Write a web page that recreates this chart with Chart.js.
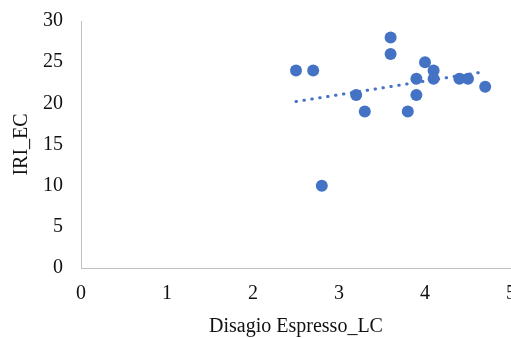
<!DOCTYPE html>
<html>
<head>
<meta charset="utf-8">
<script src="https://cdn.jsdelivr.net/npm/chart.js@4.4.0/dist/chart.umd.min.js"></script>
<style>
  html, body { margin: 0; padding: 0; background: #fff; overflow: hidden; }
  #wrap { width: 530px; height: 338px; position: relative; }
</style>
</head>
<body>
<div id="wrap"><canvas id="chart"></canvas></div>
<script>
// Disagio Espresso_LC (x) vs IRI_EC (y)
const disagioLC = [2.5, 2.7, 3.6, 3.6, 4.0, 4.1, 3.9, 4.1, 4.4, 4.5, 4.7, 3.2, 3.9, 3.3, 3.8, 2.8];
const iriEC     = [24,  24,  28,  26,  25,  24,  23,  23,  23,  23,  22,  21,  21,  19,  19,  10];
const xTicks = [0, 1, 2, 3, 4, 5];
const yTicks = [0, 5, 10, 15, 20, 25, 30];

const BLUE = '#4472C4';
const TEXT = '#111111';
const FONT = { family: "'Liberation Serif', 'Times New Roman', serif", size: 20 };

// least-squares linear trendline over the x range of the data
function linearTrend(xs, ys) {
    const n = xs.length;
    const mx = xs.reduce((a, b) => a + b, 0) / n;
    const my = ys.reduce((a, b) => a + b, 0) / n;
    let sxy = 0, sxx = 0;
    for (let i = 0; i < n; i++) {
        sxy += (xs[i] - mx) * (ys[i] - my);
        sxx += (xs[i] - mx) * (xs[i] - mx);
    }
    const m = sxy / sxx, b = my - m * mx;
    const x0 = Math.min(...xs), x1 = Math.max(...xs);
    return [{ x: x0, y: m * x0 + b }, { x: x1, y: m * x1 + b }];
}

const points = disagioLC.map((x, i) => ({ x, y: iriEC[i] }));

new Chart(document.getElementById('chart'), {
    type: 'scatter',
    data: {
        datasets: [
            {
                label: 'IRI_EC',
                data: points,
                backgroundColor: BLUE,
                borderWidth: 0,
                pointRadius: 6,
                order: 1
            },
            {
                type: 'line',
                label: 'Lineare',
                data: linearTrend(disagioLC, iriEC),
                borderColor: BLUE,
                borderWidth: 3,
                borderDash: [0.5, 7.5],
                borderCapStyle: 'round',
                pointRadius: 0,
                fill: false,
                order: 0
            }
        ]
    },
    options: {
        responsive: true,
        maintainAspectRatio: false,
        animation: false,
        layout: { padding: { top: 21, right: 17, bottom: 0, left: 0 } },
        plugins: { legend: { display: false }, tooltip: { enabled: false } },
        scales: {
            x: {
                type: 'linear', min: 0, max: 5,
                afterBuildTicks: s => { s.ticks = xTicks.map(v => ({ value: v })); },
                grid: { display: false, drawTicks: false },
                border: { display: true, color: '#bfbfbf', width: 1 },
                ticks: { font: FONT, color: TEXT, padding: 14 },
                title: { display: true, text: 'Disagio Espresso_LC', font: FONT, color: TEXT, padding: { top: -5, bottom: -1 } }
            },
            y: {
                type: 'linear', min: 0, max: 30,
                afterBuildTicks: s => { s.ticks = yTicks.map(v => ({ value: v })); },
                afterFit: s => { s.paddingTop = 0; },
                grid: { display: false, drawTicks: false },
                border: { display: true, color: '#bfbfbf', width: 1 },
                ticks: { font: FONT, color: TEXT, padding: 18 },
                title: { display: true, text: 'IRI_EC', font: FONT, color: TEXT, padding: { top: 10, bottom: -9 } }
            }
        }
    }
});
</script>
</body>
</html>
